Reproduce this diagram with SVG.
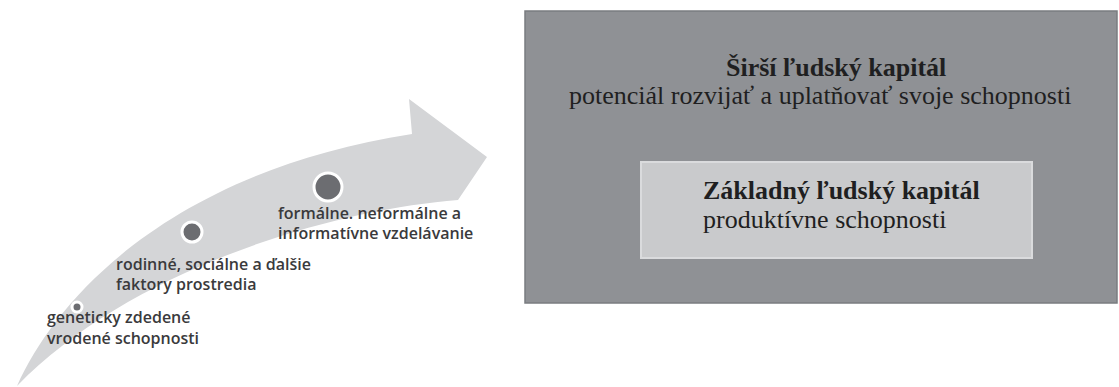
<svg xmlns="http://www.w3.org/2000/svg" width="1119" height="387" viewBox="0 0 1119 387">
<style>
.sans{font-family:"Open Sans","Liberation Sans",sans-serif;font-size:16px;font-weight:600;fill:#3a3a3c}
.serif{font-family:"Liberation Serif","DejaVu Serif",serif;font-size:26px;fill:#1f1f21}
.b{font-weight:bold}
.dot{fill:#6c6d71;stroke:#ffffff;stroke-width:3}
</style>
<rect width="1119" height="387" fill="#ffffff"/>
<g id="arrow">
<path d="M17,386 C60,290 180,170 412,134 L409,99 L487,157 L458,200 C330,210 130,270 17,386 Z" fill="#d4d5d7"/>
</g>
<g id="step1">
<circle class="dot" cx="77" cy="307" r="5"/>
<text class="sans" x="47" y="323">geneticky zdedené</text>
<text class="sans" x="47" y="344">vrodené schopnosti</text>
</g>
<g id="step2">
<circle class="dot" cx="192" cy="232" r="10"/>
<text class="sans" x="116" y="270">rodinné, sociálne a ďalšie</text>
<text class="sans" x="116" y="290">faktory prostredia</text>
</g>
<g id="step3">
<circle class="dot" cx="328" cy="187" r="14"/>
<text class="sans" x="278" y="219">formálne. neformálne a</text>
<text class="sans" x="278" y="239">informatívne vzdelávanie</text>
</g>
<g id="broad">
<rect x="525" y="11" width="592" height="292" fill="#8f9195" stroke="#7a7c80" stroke-width="1.5"/>
<text class="serif b" x="726" y="76">Širší ľudský kapitál</text>
<text class="serif" x="569" y="104">potenciál rozvijať a uplatňovať svoje schopnosti</text>
</g>
<g id="basic">
<rect x="641" y="162" width="391" height="96" fill="#c9cacc" stroke="#dadbdd" stroke-width="2"/>
<text class="serif b" x="703" y="199">Základný ľudský kapitál</text>
<text class="serif" x="703" y="228">produktívne schopnosti</text>
</g>
<g id="connectors"></g>
</svg>
